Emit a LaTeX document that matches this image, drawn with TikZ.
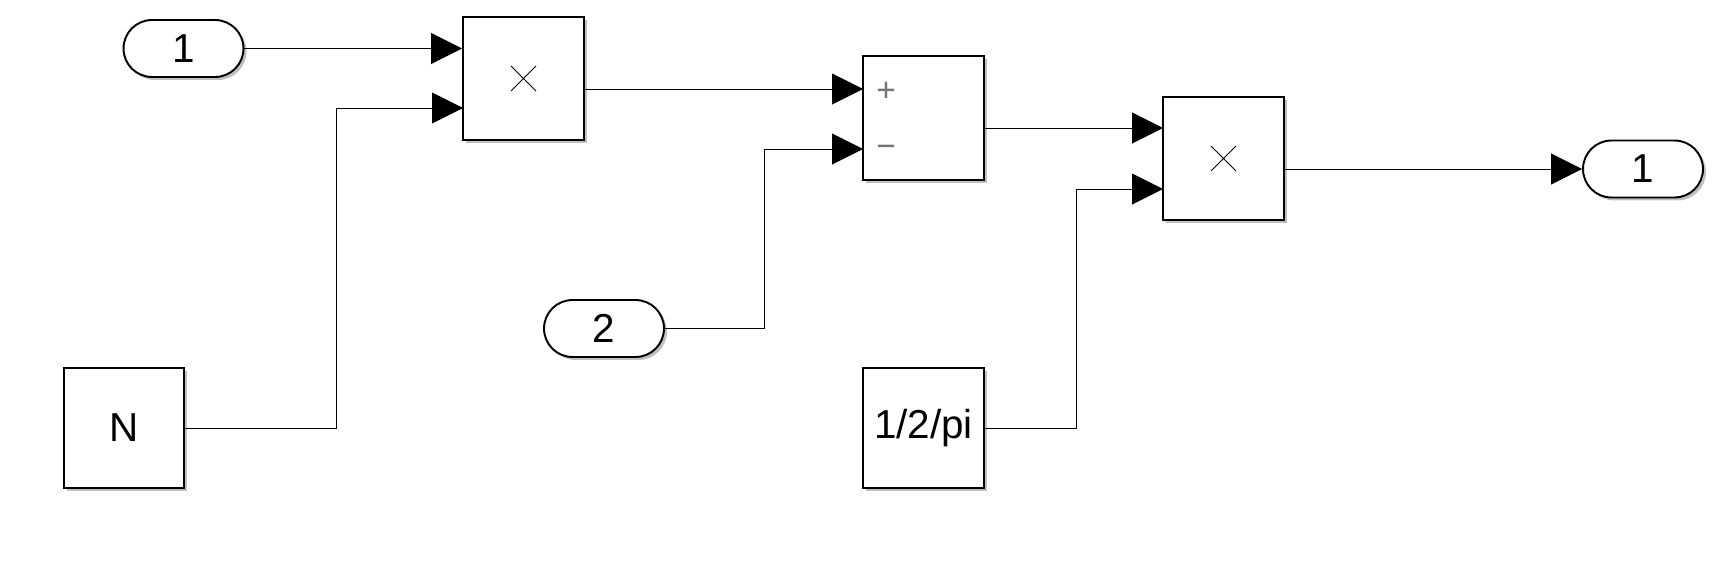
\documentclass[tikz,border=0pt]{standalone}
\usepackage{fontspec}
\setmainfont{Liberation Sans}
\usetikzlibrary{arrows.meta,shadows}

\tikzset{
  blk/.style={draw,line width=1.1pt,fill=white,inner sep=0pt,minimum width=2.42cm,minimum height=2.44cm,
    drop shadow={shadow xshift=0.06cm,shadow yshift=-0.06cm,opacity=0.5},font=\fontsize{23}{26}\selectfont},
  pill/.style={blk,rounded corners=0.57cm,minimum width=2.4cm,minimum height=1.14cm},
  sig/.style={line width=0.55pt,-{Triangle[length=0.62cm,width=0.62cm]}},
  sgn/.style={text=black!55,inner sep=0pt,font=\fontsize{19}{20}\selectfont}
}

\begin{document}
\begin{tikzpicture}[x=0.02cm,y=-0.02cm]
  \useasboundingbox (0,0) rectangle (1724,565);
  % sources
  \node[pill] (in1) at (183.5,48.5) {1}; \node[pill] (in2) at (604,328.5) {2};
  \node[blk,minimum width=2.4cm,minimum height=2.4cm] (nconst) at (124,428) {N};
  \node[blk,minimum height=2.4cm] (piconst) at (923.5,428) {1/2/pi};
  % operations
  \node[blk,minimum height=2.46cm] (prod1) at (523.5,78.5) {};
  \node[blk,minimum height=2.48cm] (sum) at (923.5,118) {};
  \node[blk,minimum height=2.46cm] (prod2) at (1223.5,158.5) {};
  \node[pill] (out1) at (1643,169) {1};
  \draw[line width=0.5pt] ([shift={(-12.5,-12.5)}]prod1.center) -- ([shift={(12.5,12.5)}]prod1.center) ([shift={(-12.5,12.5)}]prod1.center) -- ([shift={(12.5,-12.5)}]prod1.center);
  \draw[line width=0.5pt] ([shift={(-12.5,-12.5)}]prod2.center) -- ([shift={(12.5,12.5)}]prod2.center) ([shift={(-12.5,12.5)}]prod2.center) -- ([shift={(12.5,-12.5)}]prod2.center);
  \node[sgn] (plus) at (886,92) {+}; \node[sgn] (minus) at (886,151) {−};
  % ports
  \coordinate (p1b) at (463,108); \coordinate (s1a) at (863,89); \coordinate (s1b) at (863,149);
  \coordinate (p2a) at (1163,128); \coordinate (p2b) at (1163,189);
  % signals
  \draw[sig] (in1.east) -- (in1.east -| prod1.west);
  \draw[sig] (nconst.east) -| (336,108) -- (p1b);
  \draw[sig] (prod1.east |- s1a) -- (s1a);
  \draw[sig] (in2.east) -| (764,149) -- (s1b);
  \draw[sig] (sum.east |- p2a) -- (p2a);
  \draw[sig] (piconst.east) -| (1076,189) -- (p2b);
  \draw[sig] (prod2.east |- out1.west) -- (out1.west);
\end{tikzpicture}
\end{document}
